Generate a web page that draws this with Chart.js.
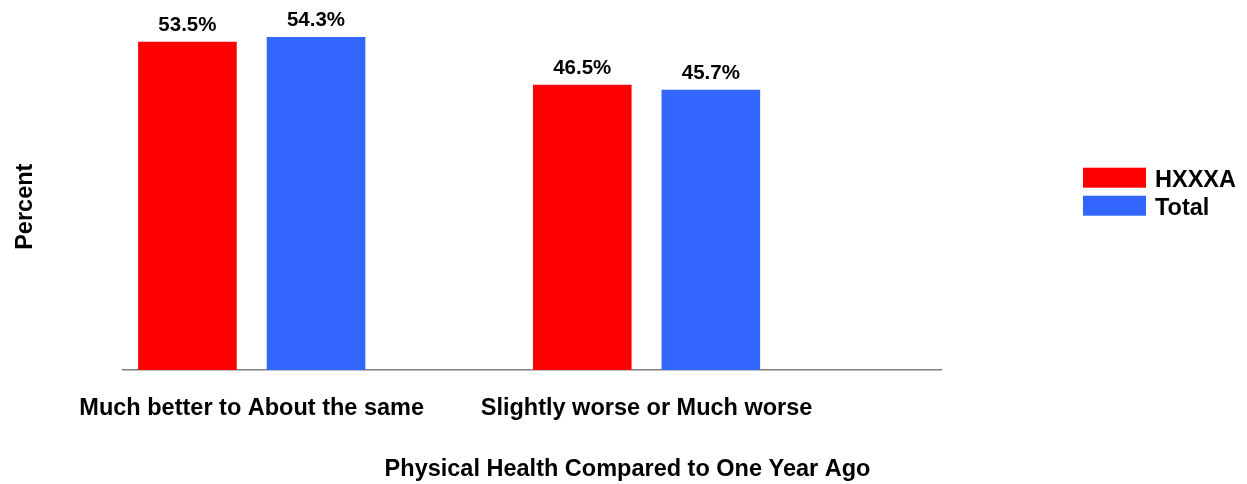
<!DOCTYPE html>
<html>
<head>
<meta charset="utf-8">
<script src="https://cdn.jsdelivr.net/npm/chart.js@4.4.1/dist/chart.umd.min.js"></script>
<style>
  html, body { margin: 0; padding: 0; background: #fff; }
  #wrap { width: 1247px; height: 484px; position: relative; }
</style>
</head>
<body>
<div id="wrap"><canvas id="graficoSalud"></canvas></div>
<script>
// Data (percent of respondents)
const categorias = ["Much better to About the same", "Slightly worse or Much worse"];
const series = ["HXXXA", "Total"];
const valoresHXXXA = [53.5, 46.5];
const valoresTotal = [54.3, 45.7];
const colores = ["#ff0000", "#3366ff"];
const tituloX = "Physical Health Compared to One Year Ago";
const tituloY = "Percent";

const FONT = "'Liberation Sans', Arial, sans-serif";

// Value labels on top of each bar
const etiquetasPlugin = {
  id: 'etiquetas',
  afterDatasetsDraw(chart) {
    const ctx = chart.ctx;
    ctx.save();
    ctx.font = `bold 20.5px ${FONT}`;
    ctx.fillStyle = '#000';
    ctx.textAlign = 'center';
    ctx.textBaseline = 'alphabetic';
    chart.data.datasets.forEach((ds, i) => {
      chart.getDatasetMeta(i).data.forEach((bar, j) => {
        ctx.fillText(ds.data[j].y.toFixed(1) + '%', bar.x, bar.y - 11);
      });
    });
    ctx.restore();
  }
};

// Axis titles + legend on the right
const textosPlugin = {
  id: 'textos',
  afterDraw(chart) {
    const ctx = chart.ctx;
    ctx.save();
    ctx.font = `bold 23.5px ${FONT}`;
    ctx.fillStyle = '#000';
    ctx.textBaseline = 'alphabetic';

    ctx.save();
    ctx.translate(31.5, 206.7);
    ctx.rotate(-Math.PI / 2);
    ctx.textAlign = 'center';
    ctx.fillText(tituloY, 0, 0);
    ctx.restore();

    ctx.textAlign = 'center';
    ctx.fillText(tituloX, 627.5, 476);

    ctx.textAlign = 'left';
    chart.data.datasets.forEach((ds, i) => {
      const y = 167.7 + i * 28;
      ctx.fillStyle = ds.backgroundColor;
      ctx.fillRect(1083, y, 63, 20);
      ctx.fillStyle = '#000';
      ctx.fillText(ds.label, 1155, y + 19.6);
    });
    ctx.restore();
  }
};

function renderGrafico() {
  const ctx = document.getElementById('graficoSalud').getContext('2d');
  const valores = [valoresHXXXA, valoresTotal];

  new Chart(ctx, {
    type: 'bar',
    data: {
      datasets: series.map((s, i) => ({
        label: s,
        data: valores[i].map((v, j) => ({ x: j, y: v })),
        backgroundColor: colores[i],
        categoryPercentage: 0.6514,
        barPercentage: 0.7668
      }))
    },
    options: {
      responsive: true,
      maintainAspectRatio: false,
      animation: false,
      layout: { padding: { left: 123, right: 305.5, top: 2, bottom: 36.9 } },
      plugins: {
        legend: { display: false },
        tooltip: { enabled: false }
      },
      scales: {
        x: {
          type: 'linear',
          offset: false,
          min: -0.326,
          max: 1.747,
          afterBuildTicks: scale => {
            scale.ticks = categorias.map((c, i) => ({ value: i }));
          },
          ticks: {
            callback: v => categorias[v],
            color: '#000',
            font: { family: FONT, size: 23.5, weight: 'bold' },
            padding: 24.5,
            autoSkip: false,
            maxRotation: 0
          },
          grid: { display: false, drawTicks: false },
          border: { display: true, color: '#808080', width: 1.5 }
        },
        y: { display: false, min: 0, max: 60 }
      }
    },
    plugins: [etiquetasPlugin, textosPlugin]
  });
}

renderGrafico();
</script>
</body>
</html>
